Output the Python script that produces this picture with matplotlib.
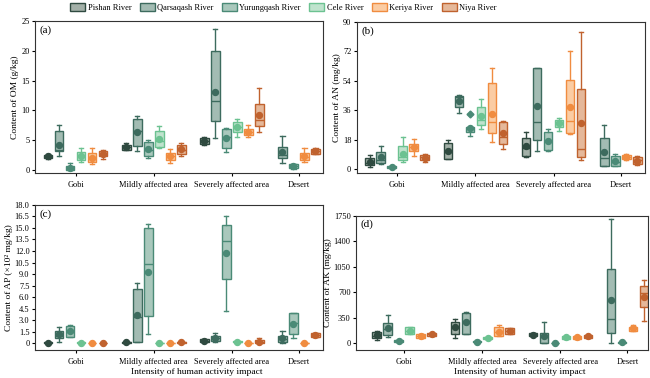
import numpy as np
import matplotlib
matplotlib.use('Agg')
import matplotlib.pyplot as plt
from matplotlib.patches import Patch
from matplotlib.ticker import FixedLocator

plt.rcParams['font.family'] = ['Liberation Serif', 'DejaVu Serif']
plt.rcParams['mathtext.fontset'] = 'stix'

# Rivers, areas and which rivers were sampled in each area
rivers = ['Pishan River', 'Qarsaqash River', 'Yurungqash River', 'Cele River', 'Keriya River', 'Niya River']
groups = ['Gobi', 'Mildly affected area', 'Severely affected area', 'Desert']
group_rivers = [[0, 1, 2, 3, 4, 5], [0, 1, 2, 3, 4, 5], [0, 1, 2, 3, 4, 5], [1, 2, 4, 5]]

edge_colors = ['#2f4a40', '#3d6b5e', '#4a8a76', '#6cc291', '#f08c40', '#c0622e']
fill_colors = ['#a3b0a8', '#a3bcb3', '#a9c8bc', '#bfe3cd', '#fbcca3', '#e5b89a']

# Box statistics, one value per box (Gobi x6, Mildly x6, Severely x6, Desert x4)
# columns: whisker low, q1, median, q3, whisker high, mean
OM = [[1.75, 2.0, 2.3, 2.5, 2.7, 2.3], [2.4, 3.1, 3.3, 6.6, 7.6, 4.2], [0.0, 0.0, 0.25, 0.7, 1.15, 0.3],
      [1.25, 1.7, 2.4, 3.05, 3.65, 2.35], [0.95, 1.25, 2.1, 2.8, 3.65, 2.0], [1.9, 2.25, 2.7, 3.1, 3.3, 2.7],
      [3.4, 3.4, 3.8, 4.2, 4.5, 3.8], [3.15, 3.95, 6.6, 8.55, 9.05, 6.3], [2.0, 2.4, 3.4, 4.6, 5.0, 3.5],
      [3.7, 3.9, 4.9, 6.5, 7.4, 5.2], [1.1, 1.6, 2.3, 2.9, 3.5, 2.3], [2.25, 2.65, 3.3, 4.2, 4.5, 3.5],
      [4.2, 4.35, 4.9, 5.35, 5.5, 4.85], [5.35, 8.15, 11.5, 20.0, 23.6, 13.1], [3.0, 3.7, 5.6, 6.9, 7.0, 5.3],
      [5.5, 6.4, 7.2, 8.05, 8.55, 7.25], [5.6, 5.85, 6.4, 6.9, 7.55, 6.4], [6.3, 7.3, 8.4, 11.1, 13.8, 9.2],
      [1.15, 1.95, 2.5, 3.85, 5.7, 3.0], [0.2, 0.3, 0.6, 1.0, 1.05, 0.65], [1.3, 1.6, 2.2, 2.8, 3.65, 2.3],
      [2.65, 2.65, 3.2, 3.55, 3.7, 3.1]]

AN = [[1.6, 2.4, 3.9, 6.7, 8.6, 4.7], [3.1, 4.0, 5.5, 10.4, 14.1, 7.3], [0.5, 0.6, 1.1, 1.7, 2.0, 1.2],
      [4.3, 5.5, 7.3, 14.1, 19.6, 9.4], [8.3, 11.4, 13.5, 15.3, 18.7, 13.6], [4.3, 5.7, 7.2, 8.8, 9.4, 7.1],
      [6.0, 6.3, 10.5, 15.9, 17.8, 11.4], [34.3, 38.3, 43.9, 44.9, 45.5, 41.6], [20.4, 23.0, 24.5, 25.8, 26.0, 25.2],
      [24.5, 27.1, 30.2, 38.0, 42.9, 32.8], [16.5, 22.4, 28.8, 52.7, 61.8, 33.9], [12.2, 15.1, 19.6, 29.0, 29.2, 22.0],
      [7.3, 8.3, 12.8, 19.2, 22.6, 14.1], [11.0, 17.9, 28.8, 61.8, 61.8, 38.4], [11.2, 11.8, 17.3, 22.8, 24.5, 17.5],
      [23.3, 25.5, 27.5, 30.2, 31.0, 28.2], [21.6, 22.0, 29.6, 54.5, 72.3, 38.0], [5.5, 7.3, 12.4, 49.0, 83.9, 28.2],
      [1.8, 1.8, 6.7, 19.0, 26.9, 10.4], [1.8, 2.2, 4.5, 8.1, 9.2, 4.9], [5.5, 6.1, 7.3, 8.8, 9.4, 7.3],
      [2.8, 3.2, 5.5, 7.3, 7.8, 5.3]]
AN_fliers = {8: [33.9]}

AP = [[0.05, 0.07, 0.1, 0.13, 0.15, 0.1], [0.17, 0.65, 1.0, 1.6, 2.08, 1.17], [0.78, 0.87, 1.5, 2.25, 2.34, 1.6],
      [0.06, 0.08, 0.1, 0.12, 0.14, 0.1], [0.04, 0.06, 0.08, 0.1, 0.12, 0.08], [0.04, 0.06, 0.08, 0.1, 0.12, 0.08],
      [0.08, 0.1, 0.13, 0.16, 0.18, 0.13], [0.2, 0.2, 3.4, 7.07, 7.9, 3.7], [1.2, 3.6, 10.3, 15.0, 15.5, 9.3],
      [0.02, 0.03, 0.05, 0.07, 0.08, 0.05], [0.0, 0.01, 0.03, 0.05, 0.06, 0.03], [0.08, 0.1, 0.12, 0.14, 0.16, 0.12],
      [0.15, 0.2, 0.35, 0.5, 0.55, 0.35], [0.17, 0.35, 0.7, 1.0, 1.4, 0.74], [4.2, 8.3, 13.3, 15.4, 16.6, 11.8],
      [0.18, 0.2, 0.22, 0.24, 0.26, 0.22], [0.0, 0.0, 0.0, 0.02, 0.03, 0.0], [0.09, 0.09, 0.22, 0.43, 0.65, 0.22],
      [0.1, 0.22, 0.6, 1.0, 1.65, 0.74], [0.7, 1.17, 2.6, 3.9, 4.0, 2.5], [0.0, 0.0, 0.0, 0.01, 0.02, 0.0],
      [0.87, 0.87, 1.1, 1.3, 1.3, 1.08]]

AK = [[46, 69, 100, 160, 165, 119], [92, 115, 190, 275, 389, 206], [14, 18, 32, 46, 50, 32],
      [128, 128, 174, 220, 220, 174], [78, 78, 105, 124, 124, 105], [101, 101, 124, 147, 147, 124],
      [69, 124, 229, 289, 334, 220], [128, 128, 307, 417, 426, 289], [9, 12, 23, 37, 40, 23],
      [64, 64, 78, 92, 92, 78], [105, 105, 160, 220, 252, 160], [128, 128, 170, 206, 206, 170],
      [101, 101, 119, 137, 137, 119], [9, 9, 92, 137, 289, 105], [0, 0, 0, 5, 10, 0],
      [60, 60, 82, 105, 105, 82], [64, 64, 87, 105, 105, 87], [73, 73, 100, 115, 115, 100],
      [0, 137, 334, 1017, 1704, 591], [5, 8, 14, 20, 22, 14], [174, 174, 206, 229, 247, 206],
      [307, 495, 692, 783, 866, 637]]

OM_ticks = [0, 5, 10, 15, 20, 25]
AN_ticks = [0, 18, 36, 54, 72, 90]
AP_ticks = [0, 1.5, 3.0, 4.5, 6.0, 7.5, 9.0, 10.5, 12.0, 13.5, 15.0, 16.5, 18.0]
AP_ticklabels = ['0', '1.5', '3.0', '4.5', '6.0', '7.5', '9.0', '10.5', '12.0', '13.5', '15.0', '16.5', '18.0']
AK_ticks = [0, 350, 700, 1050, 1400, 1750]

# box positions: consecutive boxes, fixed gap between areas
gap = 2.1
positions, box_river, centers = [], [], []
start = 0.0
for members in group_rivers:
    pos = [start + k for k in range(len(members))]
    positions += pos
    box_river += members
    centers.append(np.mean(pos))
    start = pos[-1] + gap

fig = plt.figure(figsize=(6.5, 3.78), dpi=100)


def draw_panel(rect, stats, ticks, ylabel, tag, ylim, xlim, ticklabels=None, fliers=None, xlabel=None):
    ax = fig.add_axes(rect)
    for i, s in enumerate(stats):
        r = box_river[i]
        ec, fc = edge_colors[r], fill_colors[r]
        st = dict(whislo=s[0], q1=s[1], med=s[2], q3=s[3], whishi=s[4], mean=s[5],
                  fliers=(fliers or {}).get(i, []))
        ax.bxp([st], positions=[positions[i]], widths=0.8, patch_artist=True,
               showmeans=True, manage_ticks=False,
               boxprops=dict(facecolor=fc, edgecolor=ec, linewidth=1.0),
               medianprops=dict(color=ec, linewidth=1.0),
               whiskerprops=dict(color=ec, linewidth=1.0),
               capprops=dict(color=ec, linewidth=1.0),
               meanprops=dict(marker='o', markerfacecolor=ec, markeredgecolor=ec, markersize=4.3),
               flierprops=dict(marker='D', markerfacecolor=ec, markeredgecolor=ec, markersize=3.5))
    ax.set_xlim(*xlim)
    ax.set_ylim(*ylim)
    ax.yaxis.set_major_locator(FixedLocator(ticks))
    if ticklabels is not None:
        ax.set_yticklabels(ticklabels)
    ax.set_xticks(centers)
    ax.set_xticklabels(groups)
    ax.tick_params(axis='both', labelsize=6, length=2.5, width=0.8, pad=1.5)
    ax.tick_params(axis='x', pad=3)
    ax.set_ylabel(ylabel, fontsize=6.8, labelpad=1.5)
    if xlabel:
        ax.set_xlabel(xlabel, fontsize=6.8, labelpad=1.5, x=0.56)
    for sp in ax.spines.values():
        sp.set_linewidth(0.8)
        sp.set_color('#333333')
    ax.text(0.015, 0.97, tag, transform=ax.transAxes, fontsize=8, va='top', ha='left')
    return ax


xl_a = (-1.18, 25.0)
draw_panel([0.054, 0.542, 0.443, 0.402], OM, OM_ticks, 'Content of OM (g/kg)', '(a)', (-0.55, 25), xl_a)
draw_panel([0.549, 0.542, 0.443, 0.400], AN, AN_ticks, 'Content of AN (mg/kg)', '(b)', (-2.4, 90), xl_a,
           fliers=AN_fliers)
draw_panel([0.054, 0.074, 0.443, 0.384], AP, AP_ticks, 'Content of AP (×10² mg/kg)', '(c)', (-0.87, 18), xl_a,
           ticklabels=AP_ticklabels, xlabel='Intensity of human activity impact')
draw_panel([0.548, 0.074, 0.449, 0.355], AK, AK_ticks, 'Content of AK (mg/kg)', '(d)', (-92, 1750), (-1.88, 24.67),
           xlabel='Intensity of human activity impact')

handles = [Patch(facecolor=fill_colors[i], edgecolor=edge_colors[i], linewidth=1.0, label=rivers[i])
           for i in range(len(rivers))]
fig.legend(handles=handles, loc='upper left', bbox_to_anchor=(0.1, 1.005), ncol=6, frameon=False,
           fontsize=6, handlelength=1.8, handleheight=1.0, handletextpad=0.3, columnspacing=1.0,
           borderaxespad=0.2)

fig.savefig('out.png', dpi=100)
